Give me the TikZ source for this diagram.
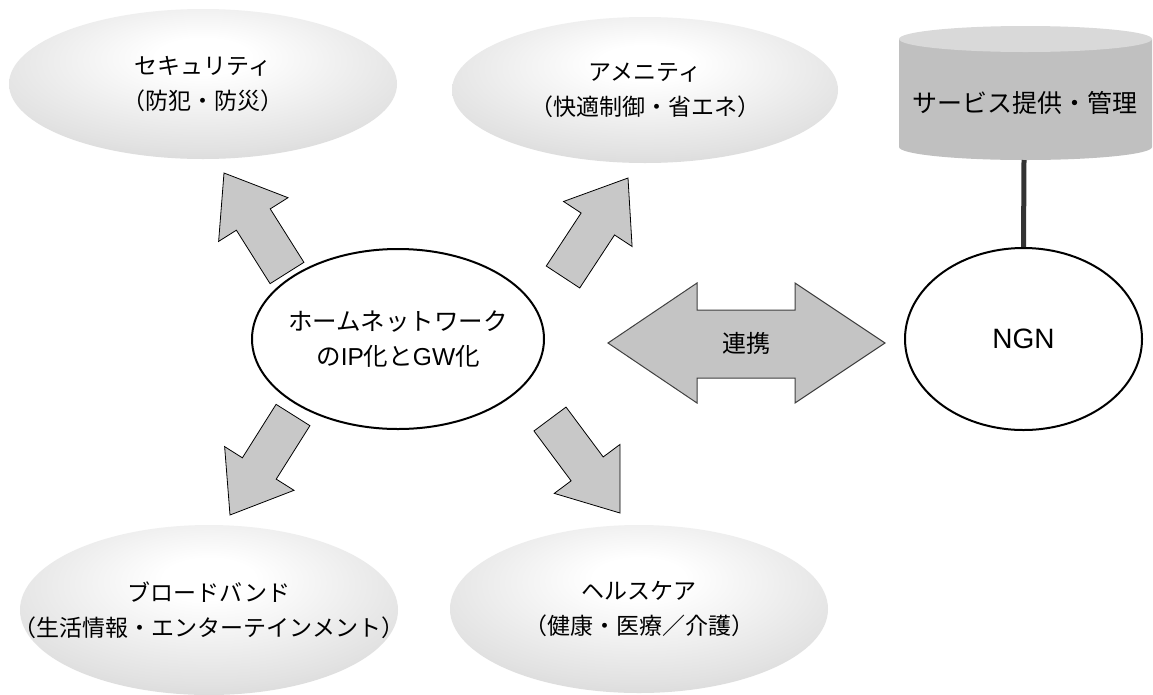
\documentclass[tikz,border=0pt]{standalone}
\usepackage{fontspec}
\setmainfont{Liberation Sans}
\newfontfamily\jp{Noto Sans CJK JP}
\usetikzlibrary{calc,shapes.geometric}
\definecolor{shedge}{RGB}{186,186,186}
\definecolor{shmid}{RGB}{226,226,226}
\definecolor{arrowfill}{RGB}{200,200,200}
\definecolor{dblfill}{RGB}{196,196,196}
\definecolor{dbldraw}{RGB}{64,64,64}
\definecolor{cylbody}{RGB}{192,192,192}
\definecolor{cyltop}{RGB}{217,217,217}
\definecolor{linkline}{RGB}{51,51,51}
\pgfdeclareradialshading{ellshade}{\pgfpoint{0bp}{10bp}}{color(0bp)=(white);color(6bp)=(white);color(28bp)=(shmid);color(52bp)=(shedge);color(80bp)=(shedge)}
\newcommand\myblockarrow[2]{%
  \coordinate (hb) at ($(#2)!55pt!(#1)$);
  \draw[barrow] ($(#1)!20pt!90:(#2)$) -- ($(hb)!20pt!90:(#2)$) -- ($(hb)!41pt!90:(#2)$) -- (#2) -- ($(hb)!41pt!-90:(#2)$) -- ($(hb)!20pt!-90:(#2)$) -- ($(#1)!20pt!-90:(#2)$) -- cycle;}
\tikzset{
  shell/.style={ellipse, inner sep=0pt, shade, shading=ellshade},
  shtext/.style={align=center, inner sep=0pt, font=\jp\fontsize{23}{35}\selectfont},
  plainell/.style={ellipse, draw=black, fill=white, line width=2pt, inner sep=0pt},
  barrow/.style={fill=arrowfill, draw=black, line width=0.8pt, line join=miter},
  dblarrow/.style={fill=dblfill, draw=dbldraw, line width=1pt, line join=miter},
}
\begin{document}
\begin{tikzpicture}[x=1pt,y=-1pt]
\fill[white] (0,0) rectangle (1153,694);
\useasboundingbox (0,0) rectangle (1153,694);
% shaded ellipses
\node[shell, minimum width=388pt, minimum height=150pt] (sec) at (203,84) {};
\node[shtext] (sectext) at (sec.center) {セキュリティ\\（防犯・防災）};
\node[shell, minimum width=386pt, minimum height=146pt] (ame) at (645,90) {};
\node[shtext] (ametext) at (ame.center) {アメニティ\\（快適制御・省エネ）};
\node[shell, minimum width=378pt, minimum height=170pt] (bb) at (209,610) {};
\node[shtext] (bbtext) at (bb.center) {ブロードバンド\\（生活情報・エンターテインメント）};
\node[shell, minimum width=378pt, minimum height=168pt] (hc) at (639,609) {};
\node[shtext] (hctext) at (hc.center) {ヘルスケア\\（健康・医療／介護）};
% center ellipse
\node[plainell, minimum width=292pt, minimum height=180pt] (home) at (398,339) {};
\node[align=center, inner sep=0pt, font=\fontsize{24.5}{35}\selectfont] (hometext) at (home.center) {{\jp ホームネットワーク}\\{\jp の}IP{\jp 化と}GW{\jp 化}};
% block arrows
\coordinate (ulB) at (287,273); \coordinate (ulT) at (224,173);
\coordinate (urB) at (563,277); \coordinate (urT) at (628,178);
\coordinate (llB) at (293,415); \coordinate (llT) at (230,515);
\coordinate (lrB) at (550,419); \coordinate (lrT) at (620,513);
\myblockarrow{ulB}{ulT}
\myblockarrow{urB}{urT}
\myblockarrow{llB}{llT}
\myblockarrow{lrB}{lrT}
% double arrow
\draw[dblarrow] (608,343) -- (697,283) -- (697,310) -- (795,310) -- (795,283) -- (885,343) -- (795,403) -- (795,378) -- (697,378) -- (697,403) -- cycle;
\node[font=\jp\fontsize{24}{30}\selectfont] (link) at (746,343) {連携};
% cylinder
\fill[cylbody] (899,39) -- (899,147) arc[start angle=180, end angle=360, x radius=126.5pt, y radius=13pt] -- (1152,39) -- cycle;
\fill[cyltop] (1025.5,39) ellipse[x radius=126.5pt, y radius=13pt];
\node[font=\jp\fontsize{25}{30}\selectfont] (svc) at (1025,103) {サービス提供・管理};
\coordinate (cylbot) at (1024,160);
% NGN
\node[plainell, minimum width=237pt, minimum height=182pt, font=\fontsize{28}{30}\selectfont] (ngn) at (1023.5,339) {NGN};
\draw[linkline, line width=5pt] (cylbot) -- (ngn.north);
\end{tikzpicture}
\end{document}
